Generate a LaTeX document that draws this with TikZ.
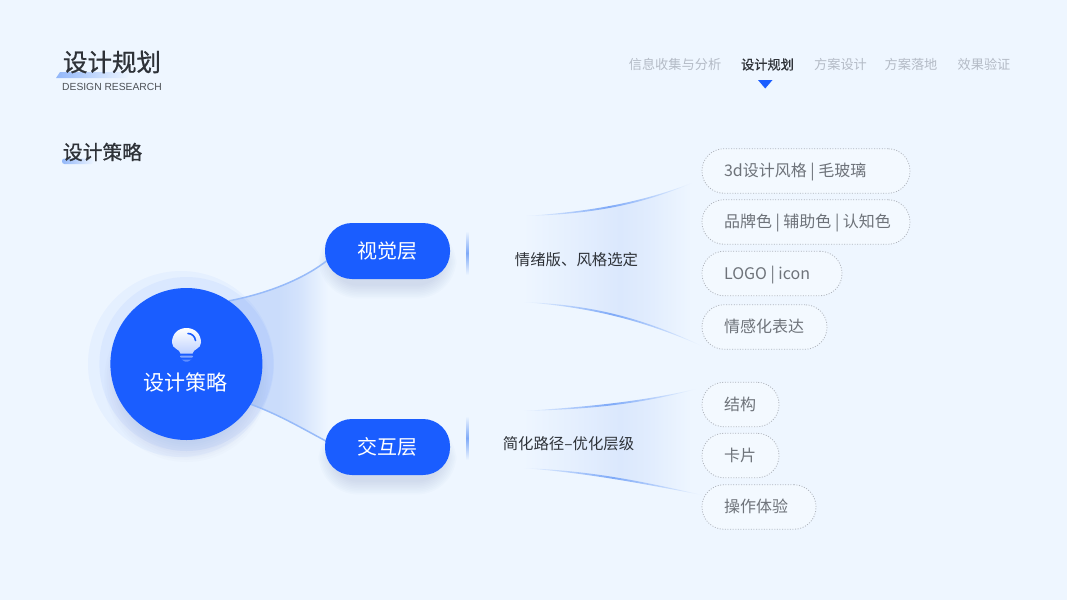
\documentclass[tikz,border=0pt]{standalone}
\usepackage{fontspec}
\usetikzlibrary{calc}
\setmainfont{Noto Sans CJK SC}
\newfontfamily\medfont[FakeBold=0.8]{Noto Sans CJK SC}
\newfontfamily\latinfont{Liberation Sans}
\definecolor{bgc}{HTML}{EEF6FF}
\definecolor{mainblue}{HTML}{1A5DFF}
\definecolor{darktext}{HTML}{2E3238}
\definecolor{midtext}{HTML}{6E737A}
\definecolor{navgrey}{HTML}{B4BBC6}
\definecolor{dotgrey}{HTML}{B0B5BD}
\definecolor{flareblue}{HTML}{7FAAF8}
\definecolor{regionblue}{HTML}{DBE8FD}
\definecolor{hubregion}{HTML}{CADCFB}
\pgfdeclarelayer{back}
\pgfsetlayers{back,main}
\pgfdeclarehorizontalshading{regR}{100bp}{color(0bp)=(bgc); color(25bp)=(bgc); color(38bp)=(bgc!55!regionblue); color(52bp)=(regionblue); color(60bp)=(bgc!30!regionblue); color(72bp)=(bgc); color(100bp)=(bgc)}
\pgfdeclarehorizontalshading{regL}{100bp}{color(0bp)=(hubregion); color(25bp)=(hubregion); color(50bp)=(hubregion); color(60bp)=(bgc!25!hubregion); color(75bp)=(bgc); color(100bp)=(bgc)}
\newcommand\lens[4]{\shade[left color=bgc,right color=bgc,middle color=flareblue] #1 .. controls ($#2+(0,-1.3)$) and ($#3+(0,-1.3)$) .. #4 .. controls ($#3+(0,1.3)$) and ($#2+(0,1.3)$) .. #1 -- cycle;}
\newcommand\softshadow[3]{\foreach \i in {1,...,9}{\fill[#3,opacity=0.03,rounded corners=25+1.6*\i] ($#1+(-1.6*\i,-1.6*\i)$) rectangle ($#2+(1.6*\i,1.6*\i)$);}}
\newcommand\pilltext[2]{\makebox[#1pt][l]{\vphantom{国}\smash{#2}}}
\tikzset{
  navitem/.style={font=\fontsize{13.2}{15}\selectfont,text=navgrey,inner sep=0pt},
  navactive/.style={font=\medfont\fontsize{13.2}{15}\selectfont,text=darktext,inner sep=0pt},
  hubcircle/.style={circle,fill=mainblue,minimum size=152pt,inner sep=0pt},
  bluepill/.style={fill=mainblue,text=white,rounded corners=27pt,minimum width=125pt,minimum height=56pt,inner sep=0pt,font=\fontsize{20}{24}\selectfont},
  notetext/.style={font=\fontsize{15.4}{18}\selectfont,text=darktext,inner sep=0pt},
  tagpill/.style={draw=dotgrey,line width=0.8pt,dash pattern=on 1pt off 1.6pt,fill=bgc!70!white,rounded corners=22pt,minimum height=44.5pt,inner sep=0pt,text=midtext,font=\fontsize{16}{19}\selectfont}
}
\begin{document}
\begin{tikzpicture}[x=1pt,y=-1pt]
\useasboundingbox (0,0) rectangle (1067,600);

% heading
\shade[left color=flareblue!85!white,right color=bgc] (60,72) -- (130,72) -- (127,78) -- (56,78) -- cycle;
\node[inner sep=0pt,text=darktext,font=\medfont\fontsize{24.5}{28}\selectfont] (title) at (112,62) {设计规划};
\node[inner sep=0pt,text=darktext!85!white,font=\latinfont\fontsize{10.3}{12}\selectfont] (subtitle) at (112,87) {DESIGN RESEARCH};
\shade[left color=flareblue!85!white,right color=bgc,rounded corners=2.5pt] (62,158.5) rectangle (94,164);
\node[inner sep=0pt,text=darktext,font=\medfont\fontsize{19.8}{24}\selectfont] (section) at (102.5,152) {设计策略};

% navigation
\node[navitem] (n1) at (675,64.5) {信息收集与分析};
\node[navactive] (n2) at (767.5,64.5) {设计规划};
\node[navitem] (n3) at (840.5,64.5) {方案设计};
\node[navitem] (n4) at (911,64.5) {方案落地};
\node[navitem] (n5) at (984,64.5) {效果验证};
\fill[mainblue] (758,80) -- (772.5,80) -- (765.2,88.5) -- cycle;

% main nodes
\node[hubcircle] (hub) at (186.4,364) {};
\node[inner sep=0pt,text=white,font=\fontsize{21}{25}\selectfont] (hubtext) at (185,383) {设计策略};
\node[bluepill] (vis) at (387.5,251) {视觉层};
\node[bluepill] (inter) at (387.5,447) {交互层};
\node[notetext] (visnote) at (576.5,259.5) {情绪版、风格选定};
\node[notetext] (internote) at (568.5,443.5) {简化路径–优化层级};

% tag pills
\node[tagpill,minimum width=208pt] (p1) at (806,171) {\pilltext{164}{3d设计风格 | 毛玻璃}};
\node[tagpill,minimum width=208pt] (p2) at (806,222) {\pilltext{164}{品牌色 | 辅助色 | 认知色}};
\node[tagpill,minimum width=140pt] (p3) at (772,273.5) {\pilltext{96}{LOGO | icon}};
\node[tagpill,minimum width=125pt] (p4) at (764.5,327) {\pilltext{81}{情感化表达}};
\node[tagpill,minimum width=77pt] (p5) at (740.5,404.5) {\pilltext{33}{结构}};
\node[tagpill,minimum width=77pt] (p6) at (740.5,455.5) {\pilltext{33}{卡片}};
\node[tagpill,minimum width=114pt] (p7) at (759,507) {\pilltext{70}{操作体验}};

% bulb icon
\shade[top color=white,bottom color=white!72!mainblue] (180.5,353.5) .. controls (180,349) and (172,349) .. (172,342.5) .. controls (172,334) and (178,328) .. (186.5,328) .. controls (195,328) and (201,334) .. (201,342.5) .. controls (201,349) and (193,349) .. (192.5,353.5) -- cycle;
\draw[mainblue,line width=1.6pt,line cap=round] (188,333.5) .. controls (192,333.5) and (195,336.5) .. (195.5,340.5);
\fill[white!45!mainblue,rounded corners=0.8pt] (180,355.5) rectangle (193,357.5);
\fill[white!30!mainblue] (181.5,359.5) -- (191.5,359.5) -- (188,361.5) -- (185,361.5) -- cycle;

\begin{pgfonlayer}{back}
  \fill[bgc] (0,0) rectangle (1067,600);
  % connector anchors
  \coordinate (hubtop) at (hub.56);
  \coordinate (hubbot) at (hub.-32);
  \coordinate (vislow) at ($(vis.west)+(3,9)$);
  \coordinate (interup) at ($(inter.west)+(3,-5)$);
  \coordinate (a1) at (525,216);
  \coordinate (a2) at (692,183);
  \coordinate (b1) at (523,302);
  \coordinate (b2) at (702,346);
  \coordinate (c1) at (523,411);
  \coordinate (c2) at (696,389);
  \coordinate (d1) at (523,468);
  \coordinate (d2) at (702,495);

  % flared regions
  \shade[shading=regL] (hubtop) .. controls (270,293) and (305,278) .. (vislow) -- (interup) .. controls (305,430) and (280,415) .. (hubbot) -- cycle;
  \shade[shading=regR] (a1) .. controls (590,213) and (640,204) .. (a2) -- (b2) .. controls (640,318) and (590,306) .. (b1) -- cycle;
  \shade[shading=regR] (c1) .. controls (590,408) and (640,403) .. (c2) -- (d2) .. controls (640,482) and (590,472) .. (d1) -- cycle;

  % shadows
  \foreach \i in {1,...,10}{\fill[black!35!mainblue!45!white,opacity=0.03] ($(hub.center)+(0,16)$) circle[radius=60+2.2*\i];}
  \softshadow{(333,240)}{(442,284)}{black!40!mainblue!50!white}
  \softshadow{(333,436)}{(442,480)}{black!40!mainblue!50!white}

  % halos
  \fill[mainblue,opacity=0.04] (181,364) circle[radius=93];
  \fill[mainblue,opacity=0.05] (hub.center) circle[radius=87];

  % connectors
  \draw[flareblue!80!white,line width=1.5pt] (hubtop) .. controls (270,293) and (305,278) .. (vislow);
  \draw[flareblue!80!white,line width=1.5pt] (hubbot) .. controls (280,415) and (305,430) .. (interup);
  \lens{(a1)}{(590,213)}{(640,204)}{(a2)}
  \lens{(b1)}{(590,306)}{(640,318)}{(b2)}
  \lens{(c1)}{(590,408)}{(640,403)}{(c2)}
  \lens{(d1)}{(590,472)}{(640,482)}{(d2)}
  \shade[top color=bgc,bottom color=bgc,middle color=flareblue] (466.6,231) rectangle (468.4,275);
  \shade[top color=bgc,bottom color=bgc,middle color=flareblue] (466.6,416) rectangle (468.4,460);
\end{pgfonlayer}
\end{tikzpicture}
\end{document}
